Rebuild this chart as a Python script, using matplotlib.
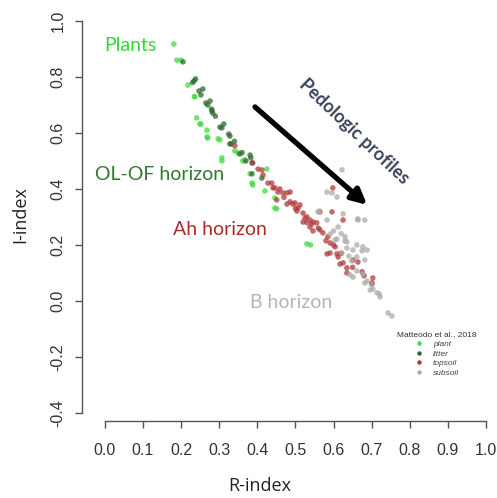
import numpy as np
import matplotlib
matplotlib.use("Agg")
import matplotlib.pyplot as plt
from matplotlib.lines import Line2D

# R-index / I-index of plant, litter and soil samples
plant_R = [0.181, 0.189, 0.200, 0.218, 0.235, 0.236, 0.241, 0.249, 0.252, 0.268, 0.268, 0.270,
           0.297, 0.302, 0.307, 0.307, 0.341, 0.349, 0.362, 0.367, 0.381, 0.386, 0.388, 0.425,
           0.420, 0.446, 0.446, 0.451, 0.530, 0.540]
plant_I = [0.918, 0.860, 0.860, 0.771, 0.730, 0.729, 0.654, 0.632, 0.632, 0.610, 0.586, 0.582,
           0.579, 0.575, 0.511, 0.500, 0.536, 0.529, 0.500, 0.504, 0.454, 0.421, 0.414, 0.471,
           0.393, 0.368, 0.332, 0.329, 0.204, 0.200]

litter_R = [0.205, 0.230, 0.234, 0.238, 0.247, 0.252, 0.257, 0.265, 0.270, 0.276, 0.280, 0.281,
            0.283, 0.290, 0.302, 0.307, 0.312, 0.325, 0.328, 0.328, 0.331, 0.340, 0.354, 0.360,
            0.370, 0.381, 0.383, 0.386, 0.386, 0.412]
litter_I = [0.854, 0.780, 0.786, 0.793, 0.750, 0.736, 0.757, 0.707, 0.700, 0.714, 0.685, 0.679,
            0.671, 0.660, 0.621, 0.618, 0.632, 0.596, 0.589, 0.561, 0.561, 0.570, 0.525, 0.530,
            0.500, 0.521, 0.511, 0.493, 0.454, 0.439]

topsoil_R = [0.341, 0.388, 0.402, 0.412, 0.415, 0.428, 0.438, 0.441, 0.446, 0.451, 0.454, 0.459,
             0.467, 0.470, 0.478, 0.478, 0.486, 0.486, 0.493, 0.499, 0.500, 0.504, 0.507, 0.512,
             0.520, 0.520, 0.525, 0.530, 0.530, 0.538, 0.538, 0.543, 0.546, 0.546, 0.556, 0.560,
             0.564, 0.564, 0.572, 0.580, 0.583, 0.585, 0.591, 0.591, 0.596, 0.598, 0.600, 0.604,
             0.609, 0.612, 0.617, 0.620, 0.625, 0.625, 0.635, 0.635, 0.650, 0.651, 0.664, 0.675,
             0.680, 0.700, 0.703, 0.701]
topsoil_I = [0.554, 0.493, 0.471, 0.468, 0.450, 0.421, 0.421, 0.404, 0.404, 0.361, 0.389, 0.400,
             0.386, 0.370, 0.386, 0.346, 0.389, 0.354, 0.346, 0.350, 0.330, 0.321, 0.332, 0.343,
             0.314, 0.282, 0.296, 0.300, 0.280, 0.289, 0.264, 0.275, 0.282, 0.250, 0.279, 0.260,
             0.254, 0.318, 0.243, 0.215, 0.168, 0.229, 0.207, 0.171, 0.318, 0.404, 0.200, 0.193,
             0.168, 0.157, 0.132, 0.170, 0.136, 0.289, 0.118, 0.100, 0.120, 0.146, 0.139, 0.104,
             0.090, 0.061, 0.082, 0.064]

subsoil_R = [0.559, 0.564, 0.583, 0.583, 0.591, 0.596, 0.600, 0.604, 0.609, 0.609, 0.612, 0.620,
             0.622, 0.622, 0.625, 0.630, 0.630, 0.635, 0.635, 0.640, 0.643, 0.648, 0.651, 0.651,
             0.661, 0.661, 0.661, 0.664, 0.664, 0.675, 0.677, 0.677, 0.682, 0.682, 0.682, 0.688,
             0.688, 0.696, 0.700, 0.703, 0.714, 0.720, 0.722, 0.743, 0.753]
subsoil_I = [0.318, 0.321, 0.389, 0.289, 0.239, 0.386, 0.250, 0.218, 0.371, 0.221, 0.264, 0.240,
             0.468, 0.171, 0.311, 0.229, 0.214, 0.211, 0.189, 0.160, 0.093, 0.143, 0.182, 0.085,
             0.200, 0.157, 0.107, 0.289, 0.293, 0.179, 0.193, 0.096, 0.289, 0.146, 0.064, 0.182,
             0.071, 0.039, 0.060, 0.043, 0.029, 0.025, 0.014, -0.043, -0.054]

groups = ["plant", "litter", "topsoil", "subsoil"]
group_colors = ["#3fdc3f", "#2c6a2c", "#b03a3a", "#ababab"]

plt.rcParams["font.family"] = ["Liberation Sans", "DejaVu Sans"]

fig = plt.figure(figsize=(4.97, 4.98), dpi=100)
W, H = 497, 498
# axes box: x from -0.06 to 1.0, y from -0.429 to 1.0 (R-style detached axes)
ax = fig.add_axes([82 / W, (H - 421) / H, 404 / W, 400 / H])
ax.set_xlim(-0.06, 1.0)
ax.set_ylim(-0.429, 1.0)

series = [(plant_R, plant_I), (litter_R, litter_I), (topsoil_R, topsoil_I), (subsoil_R, subsoil_I)]
for (r, i), c in zip(series, group_colors):
    ax.scatter(r, i, s=16, color=c, alpha=0.75, edgecolors="none", zorder=3)

for side in ["top", "right"]:
    ax.spines[side].set_visible(False)
ax.spines["left"].set_bounds(-0.4, 1.0)
ax.spines["bottom"].set_bounds(0.0, 1.0)
for side in ["left", "bottom"]:
    ax.spines[side].set_color("#555555")
    ax.spines[side].set_linewidth(1.0)

ax.set_xticks(np.arange(0, 1.01, 0.1))
ax.set_xticklabels(["%.1f" % v for v in np.arange(0, 1.01, 0.1)])
ax.set_yticks(np.arange(-0.4, 1.01, 0.2))
ax.set_yticklabels(["%.1f" % v if abs(v) > 1e-9 else "0.0" for v in np.arange(-0.4, 1.01, 0.2)],
                   rotation=90, va="center")
ax.tick_params(axis="both", direction="out", length=5, width=1.0, color="#555555",
               labelsize=11.5, labelcolor="#333333")
ax.tick_params(axis="x", pad=11)
ax.tick_params(axis="y", pad=7)

fig.text(260 / W, 1 - 486 / H, "R-index", ha="center", va="center", fontsize=13,
         family="Open Sans", color="#222222")
fig.text(20 / W, 1 - 215 / H, "I-index", ha="center", va="center", fontsize=13,
         family="Open Sans", color="#222222", rotation=90)

# horizon labels
lab_font = "Lato"
ax.text(0.066, 0.911, "Plants", color="#33d633", fontsize=14, family=lab_font,
        ha="center", va="center")
ax.text(0.144, 0.450, "OL-OF horizon", color="#2e7a2e", fontsize=14, family=lab_font,
        ha="center", va="center")
ax.text(0.302, 0.254, "Ah horizon", color="#b02a2a", fontsize=14, family=lab_font,
        ha="center", va="center")
ax.text(0.488, -0.007, "B horizon", color="#b5b5b5", fontsize=14, family=lab_font,
        ha="center", va="center")

ax.annotate("", xy=(0.688, 0.343), xytext=(0.394, 0.693),
            arrowprops=dict(arrowstyle="-|>,head_length=0.9,head_width=0.45",
                            color="black", lw=3.8, shrinkA=0, shrinkB=0))
ax.text(0.654, 0.604, "Pedologic profiles", rotation=-43.5, color="#38455a",
        fontsize=13, fontweight="bold", family=lab_font, ha="center", va="center",
        rotation_mode="anchor")

handles = [Line2D([], [], linestyle="none", marker="o", markersize=3.2, color=c,
                  markeredgewidth=0) for c in group_colors]
leg = ax.legend(handles, groups, title="Matteodo et al., 2018", frameon=False,
                loc="upper center", bbox_to_anchor=(437 / W, 1 - 329 / H),
                bbox_transform=fig.transFigure, fontsize=6, title_fontsize=6,
                labelspacing=0.25, handletextpad=1.2, handlelength=1.0,
                borderpad=0.2, borderaxespad=0)
for t in leg.get_texts():
    t.set_fontstyle("italic")
    t.set_color("#444444")
leg.get_title().set_color("#333333")

fig.savefig("out.png", dpi=100)
